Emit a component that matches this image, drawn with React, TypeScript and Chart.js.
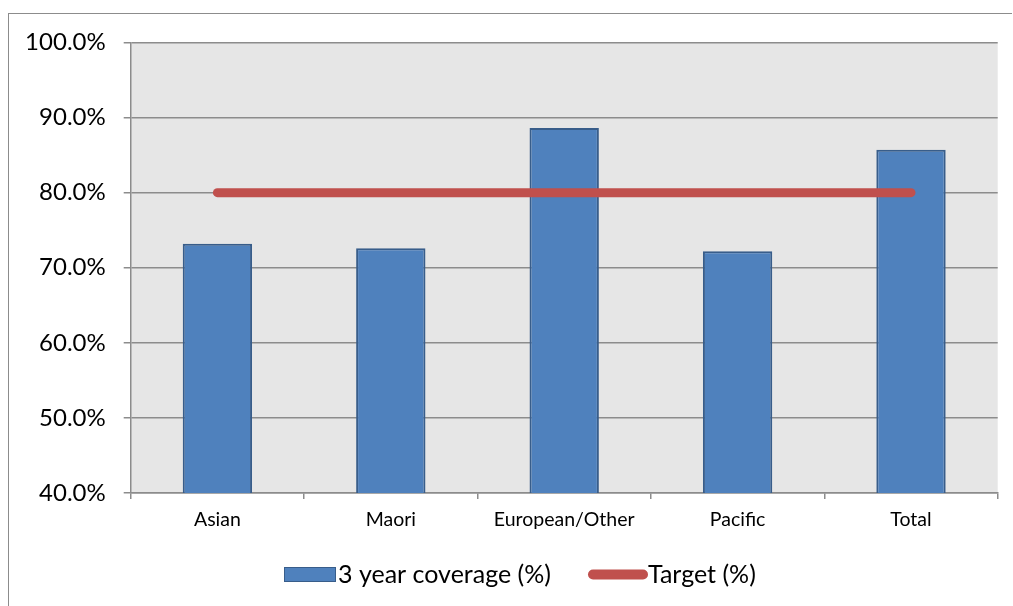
import React, { useEffect, useRef } from "react";
import { Chart, registerables } from "chart.js";

Chart.register(...registerables);

const categories = ["Asian", "Maori", "European/Other", "Pacific", "Total"];
const coverage = [73.2, 72.6, 88.6, 72.2, 85.7];
const target = [80, 80, 80, 80, 80];
const yMin = 40;
const yMax = 100;
const yStep = 10;

const FONT = "Lato";
const GRID = "#8c8c8c";

const bgPlugin = {
  id: "plotBg",
  beforeDraw(chart: any) {
    const { ctx, chartArea } = chart;
    ctx.save();
    ctx.fillStyle = "#E6E6E6";
    ctx.fillRect(chartArea.left, chartArea.top, chartArea.right - chartArea.left, chartArea.bottom - chartArea.top);
    ctx.restore();
  },
};

const legendPlugin = {
  id: "customLegend",
  afterDraw(chart: any) {
    const { ctx } = chart;
    const ds = chart.data.datasets;
    ctx.save();
    ctx.font = `25px ${FONT}`;
    ctx.textBaseline = "middle";
    // bar item
    ctx.fillStyle = ds[0].backgroundColor;
    ctx.fillRect(284, 567, 52, 15);
    ctx.strokeStyle = ds[0].borderColor;
    ctx.lineWidth = 1;
    ctx.strokeRect(284.5, 567.5, 51, 14);
    ctx.fillStyle = "#000";
    ctx.fillText(ds[0].label, 338, 575);
    // line item
    ctx.strokeStyle = ds[1].borderColor;
    ctx.lineWidth = 10;
    ctx.lineCap = "round";
    ctx.beginPath();
    ctx.moveTo(593, 574.5);
    ctx.lineTo(643, 574.5);
    ctx.stroke();
    ctx.fillStyle = "#000";
    ctx.fillText(ds[1].label, 648, 575);
    ctx.restore();
  },
};

export default function App() {
  const ref = useRef<HTMLCanvasElement | null>(null);

  useEffect(() => {
    if (!ref.current) return;
    const chart = new Chart(ref.current, {
      type: "bar",
      data: {
        labels: categories,
        datasets: [
          {
            type: "bar",
            label: "3 year coverage (%)",
            data: coverage,
            backgroundColor: "#4F81BD",
            borderColor: "#385D8A",
            borderWidth: 2,
            barPercentage: 0.4,
            categoryPercentage: 1,
            order: 1,
          },
          {
            type: "line",
            label: "Target (%)",
            data: target,
            borderColor: "#C0504D",
            backgroundColor: "#C0504D",
            borderWidth: 9,
            borderCapStyle: "round",
            pointRadius: 0,
            fill: false,
            order: 0,
          } as any,
        ],
      },
      options: {
        responsive: false,
        animation: false,
        layout: { padding: { left: 0, top: 42.5, right: 15.3, bottom: 0 } },
        plugins: {
          legend: { display: false },
          tooltip: { enabled: false },
        },
        scales: {
          x: {
            grid: {
              display: true,
              drawOnChartArea: false,
              drawTicks: true,
              tickLength: 6,
              color: GRID,
              lineWidth: 1.5,
              offset: true,
            },
            border: { display: true, color: GRID, width: 1.5 },
            ticks: { font: { family: FONT, size: 19.5 }, color: "#000", padding: 9 },
            afterFit(scale: any) {
              scale.height = 113;
            },
          },
          y: {
            min: yMin,
            max: yMax,
            ticks: {
              stepSize: yStep,
              font: { family: FONT, size: 24 },
              color: "#000",
              padding: 18,
              callback: (v: any) => Number(v).toFixed(1) + "%",
            },
            grid: { color: GRID, lineWidth: 1.5, tickLength: 7 },
            border: { display: true, color: GRID, width: 1.5 },
            afterFit(scale: any) {
              scale.width = 130.7;
            },
          },
        },
      },
      plugins: [bgPlugin, legendPlugin],
    });
    return () => chart.destroy();
  }, []);

  return (
    <div style={{ position: "absolute", left: 0, top: 0, width: 1013, height: 606, overflow: "hidden", background: "#fff" }}>
      <canvas ref={ref} width={1013} height={606} style={{ position: "absolute", left: 0, top: 0 }} />
      <div
        style={{
          position: "absolute",
          left: 8,
          top: 13,
          width: 1004,
          height: 600,
          borderTop: `1px solid ${GRID}`,
          borderLeft: `1px solid ${GRID}`,
          boxSizing: "border-box",
          pointerEvents: "none",
        }}
      />
    </div>
  );
}
